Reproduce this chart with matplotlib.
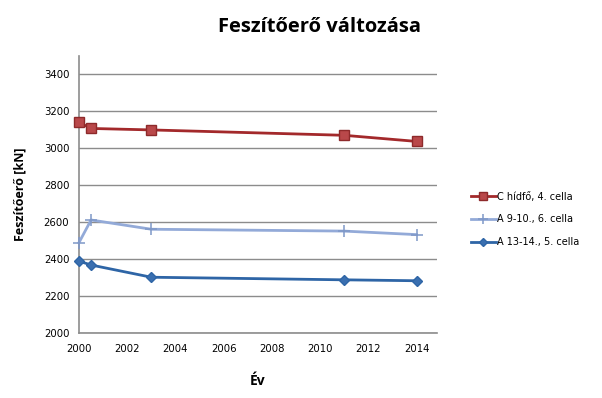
import matplotlib
matplotlib.use('Agg')
from matplotlib import pyplot as plt

years = [2000, 2000.5, 2003, 2011, 2014]
c_hidfo = [3137, 3104, 3096, 3067, 3034]
a_9_10 = [2488, 2610, 2560, 2550, 2531]
a_13_14 = [2388, 2367, 2301, 2287, 2282]
labels = ['C hídfő, 4. cella', 'A 9-10., 6. cella', 'A 13-14., 5. cella']
x_ticks = list(range(2000, 2015, 2))
y_ticks = list(range(2000, 3401, 200))

fig = plt.figure(figsize=(6.02, 3.98), dpi=100)
ax = fig.add_axes([79 / 602, 1 - 333 / 398, (437 - 79) / 602, (333 - 56) / 398])

ax.plot(years, c_hidfo, color='#a3292b', lw=2, marker='s', ms=7,
        mfc='#b9484a', mec='#8e2a2b', label=labels[0], clip_on=False, zorder=3)
ax.plot(years, a_9_10, color='#93aad8', lw=2, marker='+', ms=9,
        mew=1.1, mec='#7f98c8', label=labels[1], clip_on=False, zorder=3)
ax.plot(years, a_13_14, color='#2e65a6', lw=2, marker='D', ms=5.5,
        mfc='#3a6fb0', mec='#2e65a6', label=labels[2], clip_on=False, zorder=3)

ax.set_xlim(2000, 2014.85)
ax.set_ylim(2000, 3495)
ax.set_xticks(x_ticks)
ax.set_yticks(y_ticks)
ax.grid(axis='y', color='#8c8c8c', lw=1)
ax.set_axisbelow(True)
for s in ['top', 'right']:
    ax.spines[s].set_visible(False)
for s in ['left', 'bottom']:
    ax.spines[s].set_color('#8c8c8c')
    ax.spines[s].set_linewidth(1.2)
ax.tick_params(axis='both', length=0, labelsize=7.3, pad=8)
ax.tick_params(axis='y', pad=7)

ax.set_xlabel('Év', fontsize=10, fontweight='bold', family='Open Sans', labelpad=14)
ax.set_ylabel('Feszítőerő [kN]', fontsize=9, fontweight='bold', family='Open Sans', labelpad=12)
fig.text(320 / 602, 1 - 27 / 398, 'Feszítőerő változása', ha='center', va='center',
         fontsize=14.5, fontweight='bold', family='Open Sans')

ax.legend(loc='upper left', bbox_to_anchor=(462 / 602, 1 - 183 / 398),
          bbox_transform=fig.transFigure, frameon=False, fontsize=7,
          handlelength=2.6, labelspacing=1.3, handletextpad=0.15, markerscale=0.8)

fig.savefig('out.png', dpi=100)
